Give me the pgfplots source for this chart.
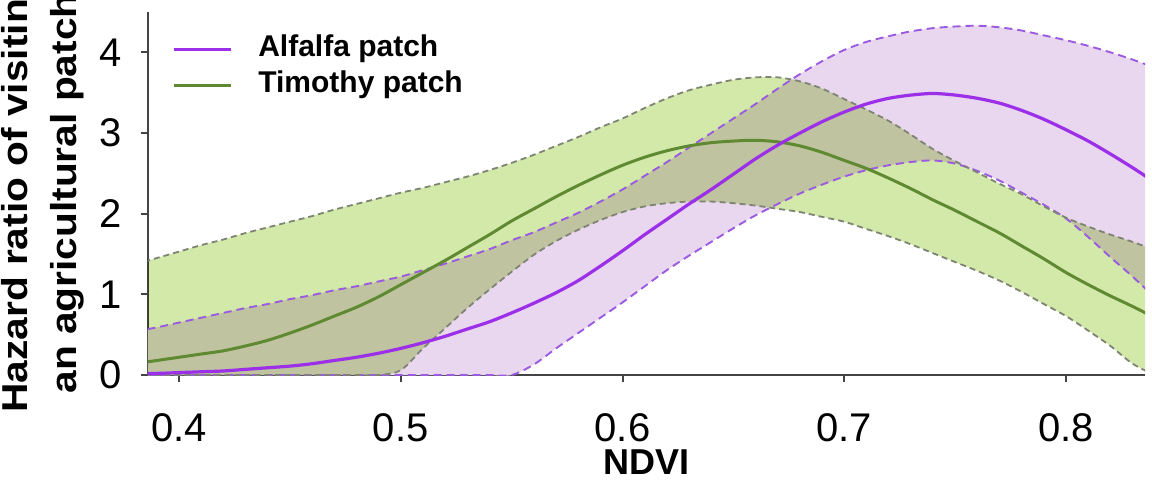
\documentclass[border=0pt]{standalone}
\usepackage{pgfplots}
\pgfplotsset{compat=1.18}
\usepackage{pgfplotstable}
\usepgfplotslibrary{fillbetween}
\usepackage{fontspec}
\setmainfont{Liberation Sans}
\newfontfamily\labelfont[FakeStretch=1.13]{Liberation Sans}

\definecolor{alfline}{HTML}{9B30E8}
\definecolor{alfdash}{HTML}{9A5BE0}
\definecolor{alffill}{HTML}{E9D6EF}
\definecolor{timline}{HTML}{5F8A32}
\definecolor{timdash}{HTML}{7E8474}
\definecolor{timfill}{HTML}{D3E9AA}
\definecolor{axisgray}{HTML}{444444}

% Alfalfa patch: hazard ratio curve and its confidence band
\pgfplotstableread{
x    mean lo   hi
0.38 0.02 0    0.54
0.39 0.02 0    0.59
0.40 0.03 0    0.65
0.41 0.04 0    0.71
0.42 0.05 0    0.77
0.43 0.07 0    0.83
0.44 0.09 0    0.88
0.45 0.11 0    0.94
0.46 0.14 0    0.99
0.47 0.18 0    1.05
0.48 0.22 0    1.10
0.49 0.27 0    1.16
0.50 0.33 0    1.22
0.51 0.40 0    1.30
0.52 0.48 0    1.38
0.53 0.57 0    1.47
0.54 0.66 0    1.56
0.55 0.77 0    1.67
0.56 0.89 0.13 1.77
0.57 1.02 0.33 1.89
0.58 1.17 0.52 2.01
0.59 1.35 0.71 2.15
0.60 1.54 0.90 2.30
0.61 1.74 1.10 2.47
0.62 1.93 1.30 2.64
0.63 2.12 1.48 2.82
0.64 2.30 1.65 3.00
0.65 2.49 1.82 3.18
0.66 2.68 1.98 3.36
0.67 2.85 2.12 3.55
0.68 3.00 2.25 3.73
0.69 3.14 2.36 3.89
0.70 3.26 2.46 4.03
0.71 3.36 2.54 4.13
0.72 3.43 2.60 4.20
0.73 3.47 2.64 4.26
0.74 3.49 2.66 4.30
0.75 3.47 2.62 4.32
0.76 3.43 2.53 4.33
0.77 3.37 2.41 4.31
0.78 3.28 2.26 4.27
0.79 3.17 2.11 4.21
0.80 3.04 1.94 4.15
0.81 2.90 1.71 4.08
0.82 2.74 1.46 4.00
0.83 2.57 1.22 3.91
0.84 2.39 0.96 3.81
}\alfalfa

% Timothy patch: hazard ratio curve and its confidence band
\pgfplotstableread{
x    mean lo   hi
0.38 0.14 0    1.37
0.39 0.18 0    1.45
0.40 0.22 0    1.53
0.41 0.26 0    1.61
0.42 0.30 0    1.68
0.43 0.36 0    1.76
0.44 0.43 0    1.83
0.45 0.52 0    1.90
0.46 0.62 0    1.97
0.47 0.73 0    2.05
0.48 0.84 0    2.12
0.49 0.97 0    2.19
0.50 1.12 0.06 2.26
0.51 1.27 0.33 2.32
0.52 1.42 0.58 2.39
0.53 1.58 0.83 2.46
0.54 1.74 1.06 2.54
0.55 1.91 1.28 2.63
0.56 2.06 1.49 2.73
0.57 2.21 1.66 2.84
0.58 2.35 1.80 2.95
0.59 2.48 1.92 3.07
0.60 2.60 2.02 3.18
0.61 2.70 2.09 3.31
0.62 2.78 2.13 3.43
0.63 2.84 2.15 3.53
0.64 2.88 2.15 3.60
0.65 2.90 2.13 3.66
0.66 2.91 2.10 3.69
0.67 2.89 2.06 3.69
0.68 2.84 2.02 3.64
0.69 2.76 1.96 3.55
0.70 2.66 1.90 3.42
0.71 2.56 1.81 3.29
0.72 2.44 1.72 3.15
0.73 2.31 1.62 2.98
0.74 2.17 1.51 2.80
0.75 2.04 1.40 2.65
0.76 1.90 1.29 2.51
0.77 1.76 1.17 2.37
0.78 1.60 1.03 2.24
0.79 1.44 0.88 2.09
0.80 1.27 0.73 1.95
0.81 1.12 0.55 1.84
0.82 0.98 0.36 1.74
0.83 0.85 0.14 1.65
0.84 0.71 0    1.55
}\timothy

\begin{document}
\begin{tikzpicture}[x=1pt,y=1pt]
\begin{axis}[
  at={(0,0)}, anchor=south west,
  scale only axis, width=997pt, height=363pt,
  xmin=0.386, xmax=0.8356, ymin=0, ymax=4.5,
  axis lines*=left,
  axis line style={axisgray, line width=2pt, -},
  tick align=outside, major tick length=7pt,
  tick style={axisgray, line width=2pt},
  xtick={0.4,0.5,0.6,0.7,0.8}, xticklabels={0.4,0.5,0.6,0.7,0.8},
  ytick={0,1,2,3,4}, yticklabels={0,1,2,3,4},
  tick label style={font=\fontsize{40}{40}\selectfont, black, inner sep=0pt},
  xticklabel style={anchor=north, yshift=-31pt},
  yticklabel style={anchor=east, xshift=-19.5pt},
  xlabel={NDVI},
  xlabel style={at={(axis description cs:0.5,-0.2397)}, anchor=center,
    inner sep=0pt, font=\bfseries\fontsize{36}{36}\selectfont},
  ylabel={Hazard ratio of visiting\\an agricultural patch},
  ylabel style={at={(axis description cs:-0.0636,0.5)}, anchor=south,
    align=center, inner sep=0pt,
    font=\labelfont\bfseries\fontsize{36}{49}\selectfont},
  legend style={draw=none, fill=none, at={(axis description cs:0.024,0.938)},
    anchor=north west, inner sep=0pt, row sep=6pt,
    nodes={inner sep=0pt, text height=22pt, text depth=8pt},
    font=\bfseries\fontsize{30}{30}\selectfont},
  legend cell align=left,
  legend image code/.code={\draw[#1] (0pt,0pt) -- (57pt,0pt); \path (83pt,0pt);},
  reverse legend,
]
% Alfalfa confidence band
\addplot[draw=none, name path=ah, smooth, forget plot] table[x=x, y=hi] {\alfalfa};
\addplot[draw=none, name path=al, smooth, forget plot] table[x=x, y=lo] {\alfalfa};
\addplot[fill=alffill, draw=none, forget plot] fill between[of=ah and al];
\addplot[alfdash, line width=1.9pt, dash pattern=on 8pt off 5pt, smooth, forget plot] table[x=x, y=hi] {\alfalfa};
\addplot[alfdash, line width=1.9pt, dash pattern=on 8pt off 5pt, smooth, forget plot] table[x=x, y=lo] {\alfalfa};
% Timothy confidence band, multiplied over the alfalfa band
\addplot[draw=none, name path=th, smooth, forget plot] table[x=x, y=hi] {\timothy};
\addplot[draw=none, name path=tl, smooth, forget plot] table[x=x, y=lo] {\timothy};
\addplot[fill=timfill, draw=none, blend mode=multiply, forget plot] fill between[of=th and tl];
\addplot[timdash, line width=1.8pt, dash pattern=on 6pt off 4pt, smooth, forget plot] table[x=x, y=hi] {\timothy};
\addplot[timdash, line width=1.8pt, dash pattern=on 6pt off 4pt, smooth, forget plot] table[x=x, y=lo] {\timothy};
% Fitted curves
\addplot[timline, line width=3pt, smooth] table[x=x, y=mean] {\timothy};
\addlegendentry{Timothy patch}
\addplot[alfline, line width=3.2pt, smooth] table[x=x, y=mean] {\alfalfa};
\addlegendentry{Alfalfa patch}
\end{axis}
\pgfresetboundingbox
\useasboundingbox (-148,-105) rectangle (1004,375);
\end{tikzpicture}
\end{document}
